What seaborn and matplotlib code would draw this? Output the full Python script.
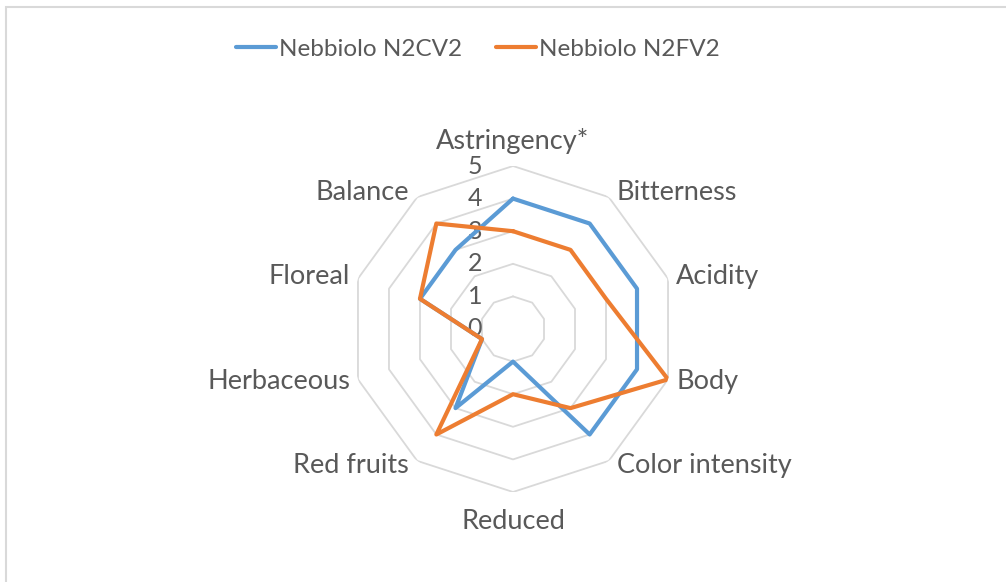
"""
Radar chart of sensory scores, Nebbiolo N2CV2 vs N2FV2
"""

import numpy as np
import pandas as pd
import matplotlib
matplotlib.use("Agg")
import matplotlib.pyplot as plt
from matplotlib.patches import Rectangle
import seaborn as sns

sns.set_style("white")
plt.rcParams["font.family"] = ["Lato", "DejaVu Sans"]

# data
categories = ["Astringency*", "Bitterness", "Acidity", "Body", "Color intensity",
              "Reduced", "Red fruits", "Herbaceous", "Floreal", "Balance"]
n2cv2 = [4, 4, 4, 4, 4, 1, 3, 1, 3, 3]
n2fv2 = [3, 3, 3, 5, 3, 2, 4, 1, 3, 4]
ring_ticks = [0, 1, 2, 3, 4, 5]
series_names = ["Nebbiolo N2CV2", "Nebbiolo N2FV2"]

text_grey = "#595959"
grid_grey = "#d9d9d9"
colors = ["#5B9BD5", "#ED7D31"]

n = len(categories)
angles = np.linspace(0, 2 * np.pi, n, endpoint=False)
closed = np.append(angles, angles[0])

rows = []
for name, vals in zip(series_names, [n2cv2, n2fv2]):
    vals_closed = list(vals) + [vals[0]]
    for a, v in zip(closed, vals_closed):
        rows.append({"series": name, "angle": a, "value": v})
df = pd.DataFrame(rows)

W, H = 1006, 582
fig = plt.figure(figsize=(W / 100, H / 100), dpi=100)

# chart-area border (only left/top visible in the crop)
fig.patches.append(Rectangle((6 / W, -0.1), 1.2, 1.1 - 7 / H,
                             transform=fig.transFigure, fill=False,
                             edgecolor=grid_grey, lw=1.5))

cx, cy, R = 513, 329, 163
ax = fig.add_axes([(cx - R) / W, (H - cy - R) / H, 2 * R / W, 2 * R / H],
                  projection="polar")
ax.set_theta_offset(np.pi / 2)
ax.set_theta_direction(-1)
ax.set_ylim(0, 5)
ax.grid(False)
ax.spines["polar"].set_visible(False)
ax.set_xticks([])
ax.set_yticks([])
ax.patch.set_alpha(0)

# decagon gridlines
for r in ring_ticks[1:]:
    ax.plot(closed, [r] * len(closed), color=grid_grey, lw=1.3, zorder=1)

sns.lineplot(data=df, x="angle", y="value", hue="series", sort=False,
             units="series", estimator=None, palette=colors, lw=3,
             ax=ax, zorder=3, legend=False)
ax.set_xlabel("")
ax.set_ylabel("")

# ring value labels left of the top spoke
for r in ring_ticks:
    ax.annotate(str(r), xy=(0, r), xytext=(-38, 0), textcoords="offset pixels",
                ha="center", va="center", fontsize=18, color=text_grey, zorder=2)

# category labels
for a, lab in zip(angles, categories):
    dx, dy = np.sin(a), np.cos(a)
    if abs(dx) < 0.1:
        ha = "center"
        va = "bottom" if dy > 0 else "top"
        off = (0, 12 if dy > 0 else -17)
    else:
        ha = "left" if dx > 0 else "right"
        va = "center"
        off = (8 * np.sign(dx), 6 * dy)
    ax.annotate(lab, xy=(a, 5), xytext=off, textcoords="offset pixels",
                ha=ha, va=va, fontsize=19.5, color=text_grey, annotation_clip=False)

# legend
handles = [plt.Line2D([], [], color=c, lw=3) for c in colors]
fig.legend(handles, series_names, loc="center", bbox_to_anchor=(478 / W, 1 - 49 / H),
           ncol=2, frameon=False, fontsize=17.5, handlelength=1.65,
           handletextpad=0.12, columnspacing=1.4, labelcolor=text_grey)

fig.savefig("out.png", dpi=100, facecolor="white")
